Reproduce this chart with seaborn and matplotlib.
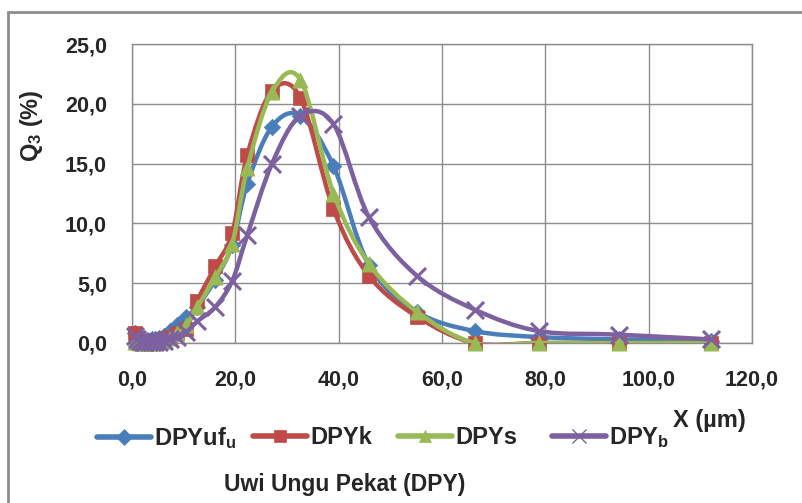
import numpy as np
import matplotlib
matplotlib.use('Agg')
import matplotlib.pyplot as plt
import seaborn as sns
from matplotlib.path import Path
from matplotlib.patches import PathPatch, Rectangle
from matplotlib.lines import Line2D
from matplotlib.ticker import FuncFormatter, MultipleLocator

# particle size (um) and Q3 (%)
x_um = [0.5, 1.0, 1.5, 2.1, 2.6, 3.2, 3.8, 4.5, 5.2, 6.2, 7.4, 8.8, 10.5,
        12.6, 16.1, 19.4, 22.3, 27.1, 32.6, 39.0, 45.9, 55.2, 66.3, 78.7, 94.2, 112.0]
dpy_ufu = [0.8, 0.3, 0.2, 0.2, 0.2, 0.2, 0.3, 0.3, 0.4, 0.6, 1.0, 1.5, 2.2,
           3.0, 5.3, 8.2, 13.3, 18.1, 19.0, 14.8, 6.5, 2.6, 1.0, 0.5, 0.3, 0.2]
dpy_k = [0.8, 0.4, 0.2, 0.1, 0.1, 0.1, 0.1, 0.1, 0.2, 0.3, 0.5, 0.8, 1.2,
         3.5, 6.4, 9.2, 15.7, 21.1, 20.5, 11.2, 5.6, 2.2, 0.0, 0.0, 0.0, 0.0]
dpy_s = [0.1, 0.1, 0.0, 0.0, 0.0, 0.0, 0.0, 0.0, 0.1, 0.2, 0.4, 0.8, 1.5,
         3.0, 5.5, 8.3, 14.6, 21.0, 22.0, 12.5, 6.6, 2.6, 0.0, 0.0, 0.0, 0.0]
dpy_b = [0.6, 0.3, 0.2, 0.1, 0.1, 0.1, 0.1, 0.1, 0.1, 0.2, 0.3, 0.5, 0.9,
         1.8, 3.0, 5.2, 9.0, 15.0, 19.0, 18.3, 10.5, 5.6, 2.8, 1.0, 0.7, 0.3]

labels = ['DPYuf$_u$', 'DPYk', 'DPYs', 'DPY$_b$']
colors = ['#4A7EBB', '#BE4B48', '#98B954', '#7D60A0']
markers = ['D', 's', '^', 'x']
sizes = [70, 100, 120, 150]

sns.set_theme(style='white')
plt.rcParams['font.family'] = ['Liberation Sans', 'DejaVu Sans']
plt.rcParams['mathtext.fontset'] = 'custom'
plt.rcParams['mathtext.rm'] = 'Liberation Sans:bold'
plt.rcParams['mathtext.it'] = 'Liberation Sans:bold'
plt.rcParams['mathtext.bf'] = 'Liberation Sans:bold'


def smooth_path(xs, ys):
    # excel-like smoothed line: bezier segments through the data points
    pts = np.column_stack([xs, ys]).astype(float)
    n = len(pts)
    verts = [pts[0]]
    codes = [Path.MOVETO]
    for i in range(n - 1):
        p0 = pts[i - 1] if i > 0 else pts[i]
        p1, p2 = pts[i], pts[i + 1]
        p3 = pts[i + 2] if i + 2 < n else pts[i + 1]
        verts += [p1 + (p2 - p0) / 6, p2 - (p3 - p1) / 6, p2]
        codes += [Path.CURVE4] * 3
    return Path(verts, codes)


fig = plt.figure(figsize=(8.03, 5.03), dpi=100)
ax = fig.add_axes([132 / 803, 1 - 343 / 503, 620 / 803, 299 / 503])

for i, (vals, c, m, s) in enumerate(zip([dpy_ufu, dpy_k, dpy_s, dpy_b], colors, markers, sizes)):
    ax.add_patch(PathPatch(smooth_path(x_um, vals), facecolor='none', edgecolor=c,
                           lw=3.2, capstyle='round', joinstyle='round', zorder=3 + 2 * i))
    if m == 'x':
        sns.scatterplot(x=x_um, y=vals, marker=m, color=c, s=s, linewidth=2.2,
                        ax=ax, zorder=4 + 2 * i, clip_on=False)
    else:
        sns.scatterplot(x=x_um, y=vals, marker=m, color=c, s=s, edgecolor=c,
                        linewidth=0.5, ax=ax, zorder=4 + 2 * i, clip_on=False)

ax.set_xlim(0, 120)
ax.set_ylim(0, 25)
ax.xaxis.set_major_locator(MultipleLocator(20))
ax.yaxis.set_major_locator(MultipleLocator(5))
fmt = FuncFormatter(lambda v, p: f'{v:.1f}'.replace('.', ','))
ax.xaxis.set_major_formatter(fmt)
ax.yaxis.set_major_formatter(fmt)
ax.grid(True, color='#8c8c8c', lw=1)
for sp in ax.spines.values():
    sp.set_color('#8c8c8c')
    sp.set_linewidth(1)
ax.tick_params(length=0, labelsize=15.5)
ax.tick_params(axis='x', pad=19)
ax.tick_params(axis='y', pad=18)
for t in ax.get_xticklabels() + ax.get_yticklabels():
    t.set_fontweight('bold')
ax.set_xlabel('')
ax.set_ylabel('')

fig.text(32 / 803, 1 - 126 / 503, 'Q$_3$ (%)', rotation=90, ha='center', va='center',
         fontsize=17, fontweight='bold')
fig.text(709 / 803, 1 - 421 / 503, 'X (µm)', ha='center', va='center',
         fontsize=17, fontweight='bold')
fig.text(345 / 803, 1 - 485 / 503, 'Uwi Ungu Pekat (DPY)', ha='center', va='center',
         fontsize=16.5, fontweight='bold')

# legend entries placed one by one, spacing as in the original
leg_x = [97, 253, 398, 552]
for lab, c, m, lx in zip(labels, colors, markers, leg_x):
    h = Line2D([], [], color=c, lw=4, marker=m, markersize=10 if m == 'x' else 8,
               markeredgewidth=1 if m == 'x' else 0.5)
    fig.legend([h], [lab], loc='center left', bbox_to_anchor=(lx / 803, 1 - 438 / 503),
               frameon=False, prop={'weight': 'bold', 'size': 17}, handlelength=2.3,
               handletextpad=0.12, borderpad=0, borderaxespad=0)

fig.add_artist(Rectangle((8 / 803, -0.05), 1.0, 1 - 12 / 503 + 0.05, transform=fig.transFigure,
                         fill=False, edgecolor='#8c8c8c', lw=2))

fig.savefig('out.png', dpi=100)
